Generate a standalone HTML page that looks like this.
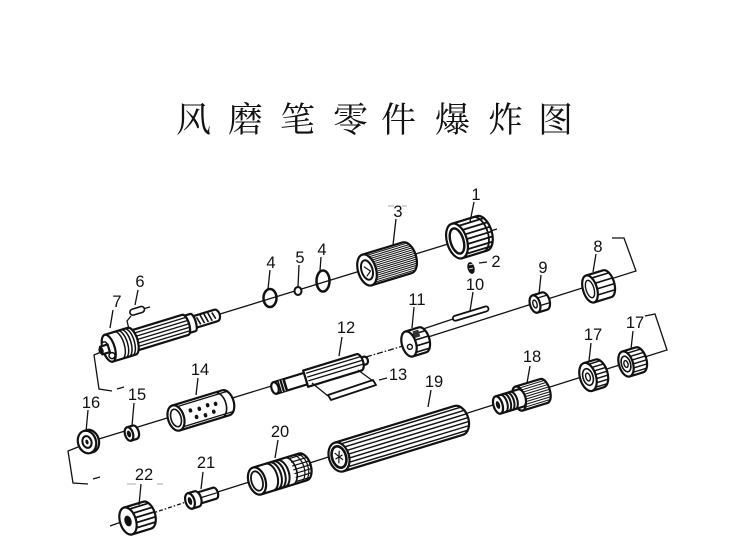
<!DOCTYPE html>
<html><head><meta charset="utf-8"><style>
html,body{margin:0;padding:0;background:#fff;}
svg{display:block}
.o{fill:#fff;stroke:#111;stroke-width:2.2;stroke-linejoin:round}
.l{stroke:#111;stroke-width:1.3;fill:none}
.k{stroke:#111;stroke-width:1.3;fill:none}
.t{font-family:"Liberation Sans",sans-serif;font-size:16.5px;fill:#111;text-anchor:middle}
</style></head><body>
<svg width="740" height="549" viewBox="0 0 740 549" xmlns="http://www.w3.org/2000/svg">
<rect width="740" height="549" fill="#fff"/>
<text font-family="'Noto Serif CJK SC','Liberation Serif',serif" font-size="35" y="132" fill="#111"><tspan x="176">风</tspan><tspan x="228">磨</tspan><tspan x="280">笔</tspan><tspan x="333">零</tspan><tspan x="381">件</tspan><tspan x="435">爆</tspan><tspan x="488">炸</tspan><tspan x="538">图</tspan></text>

<!-- axis lines -->
<path class="l" d="M220,314 L497,229"/>
<path class="l" d="M428,337 L636,271 L624,238 L612,238"/>
<path class="l" d="M423,329 L453,319"/>
<path class="l" d="M89,442 L366,357"/>
<path class="l" d="M366,357 L403,346" stroke-dasharray="6,2,1.5,2"/>
<path class="l" d="M186,502 L667,350 L655,314 L645,316"/>
<path class="l" d="M150,514 L186,502" stroke-dasharray="4,2,1.5,2"/>
<path class="l" d="M110,526 L124,521"/>
<!-- brackets -->
<path class="l" d="M101,352 L94,355 L99,389 L112,391"/>
<path class="l" d="M117,389 L124,387"/>
<path class="l" d="M78,447 L68,451 L73,483 L88,484"/>
<path class="l" d="M93,479 L100,477"/>
<!-- faint marks -->
<path d="M388,206 L394,206 M402,206 L407,206 M127,484 L136,484 M157,484 L163,484" stroke="#aaa" stroke-width="1"/>

<!-- Part 7 spindle -->
<g transform="translate(103,350) rotate(-17)">
 <path class="o" d="M94,-6 H118 A4,6 0 0 1 118,6 H94 Z"/>
 <path d="M99,-4 L101,4 M103,-5 L105,4 M107,-5 L109,4 M111,-5 L113,4 M115,-4 L117,3" stroke="#111" stroke-width="1.6"/>
 <path class="o" d="M84,-9 H94 A3,9 0 0 1 94,9 H84 Z"/>
 <path class="o" d="M30,-10.5 H86 A4,10.5 0 0 1 86,10.5 H30 Z"/>
 <path class="k" d="M33,-7 H88 M33,-3.5 H89 M33,0 H89.5 M33,3.5 H89 M33,7 H88"/>
 <path class="o" d="M6,-14 H30 A6,14 0 0 1 30,14 H6 Z"/>
 <path d="M16,-14 A6,14 0 0 1 16,14 M19.5,-14 A6,14 0 0 1 19.5,14 M23,-14 A6,14 0 0 1 23,14 M26.5,-14 A6,14 0 0 1 26.5,14" fill="none" stroke="#111" stroke-width="1.5"/>
 <ellipse class="o" cx="6" cy="0" rx="6" ry="14"/>
 <circle cx="7" cy="8" r="3" fill="#fff" stroke="#111" stroke-width="1.5"/>
 <circle cx="3" cy="-5" r="2.5" fill="#fff" stroke="#111" stroke-width="1.5"/>
 <path class="o" d="M-2,-4 H6 V4 H-2 Z"/>
 <ellipse cx="-2" cy="0" rx="2.5" ry="4" fill="#111"/>
</g>
<!-- Part 6 -->
<g transform="translate(130,313) rotate(-17)">
 <rect x="0" y="-3" width="15" height="6" rx="3" fill="#fff" stroke="#111" stroke-width="1.6"/>
 <path class="l" d="M15,0 H21"/>
</g>
<path class="l" d="M131,316 L127,321 L129,329"/>

<!-- rings 4,5,4 -->
<ellipse cx="270" cy="298" rx="6.5" ry="9" fill="none" stroke="#111" stroke-width="2.5"/>
<ellipse cx="298" cy="291" rx="3.5" ry="4" fill="#fff" stroke="#111" stroke-width="2"/>
<ellipse cx="323" cy="281" rx="6.5" ry="10.5" fill="none" stroke="#111" stroke-width="2.5"/>

<!-- Part 3 -->
<g transform="translate(367,270) rotate(-17)">
 <path class="o" d="M0,-16 H42 A9,16 0 0 1 42,16 H0 Z"/>
 <path d="M0,-14H46.3 M0,-12H48 M0,-10H49 M0,-8H49.8 M0,-6H50.3 M0,-4H50.7 M0,-2H50.9 M0,0H51 M0,2H50.9 M0,4H50.7 M0,6H50.3 M0,8H49.8 M0,10H49 M0,12H48 M0,14H46.3" stroke="#111" stroke-width="1"/>
 <ellipse class="o" cx="0" cy="0" rx="9" ry="16" stroke-width="2.6"/>
 <ellipse cx="0" cy="0" rx="5.5" ry="10" fill="#fff" stroke="#111" stroke-width="2"/>
 <path d="M-2,-4 L3,2 L-2,6" fill="none" stroke="#111" stroke-width="1.2"/>
</g>

<!-- Part 1 -->
<g transform="translate(457,241) rotate(-17)">
 <path class="o" d="M0,-18 H26 A10,18 0 0 1 26,18 H0 Z"/>
 <path d="M0,-14H32.3 M0,-9H34.7 M0,-4H35.7 M0,1H36 M0,6H35.4 M0,11H33.9 M0,15H31.5" stroke="#111" stroke-width="1.8"/>
 <path d="M22,-18 A10,18 0 0 1 22,18" fill="none" stroke="#111" stroke-width="1.8"/>
 <ellipse class="o" cx="0" cy="0" rx="10" ry="18" stroke-width="2.6"/>
 <ellipse cx="0" cy="0" rx="6.5" ry="13" fill="#fff" stroke="#111" stroke-width="2.4"/>
</g>
<!-- Part 2 -->
<ellipse cx="471" cy="268" rx="3.5" ry="6" fill="#111" transform="rotate(-15 471 268)"/>
<path d="M469,265 L473,264 M469,269 L473,268" stroke="#fff" stroke-width="0.8"/>
<path class="l" d="M479,263 L487,262"/>

<!-- Part 10 pin -->
<g transform="translate(453,319) rotate(-17)">
 <rect x="0" y="-2.5" width="37" height="5" rx="2.5" fill="#fff" stroke="#111" stroke-width="1.8"/>
</g>
<!-- Part 9 -->
<g transform="translate(535,304) rotate(-17)">
 <path class="o" d="M0,-9 H10 A5,9 0 0 1 10,9 H0 Z"/>
 <path class="k" d="M0,-5H14.5 M0,3H14.7"/>
 <ellipse class="o" cx="0" cy="0" rx="5" ry="9"/>
 <ellipse cx="0" cy="0" rx="2" ry="4" fill="#fff" stroke="#111" stroke-width="1.4"/>
</g>
<!-- Part 8 -->
<g transform="translate(590,289) rotate(-17)">
 <path class="o" d="M0,-14 H18 A7,14 0 0 1 18,14 H0 Z"/>
 <path d="M0,-10H22.9 M0,-4H24.4 M0,2H24.9 M0,8H23.7" stroke="#111" stroke-width="1.6"/>
 <ellipse class="o" cx="0" cy="0" rx="7" ry="14" stroke-width="2.4"/>
 <ellipse cx="0" cy="0" rx="4" ry="9" fill="#fff" stroke="#111" stroke-width="1.4"/>
</g>
<!-- Part 11 -->
<g transform="translate(409,344) rotate(-17)">
 <path class="o" d="M0,-13 H14 A7,13 0 0 1 14,13 H0 Z"/>
 <path d="M0,-8H19.5 M0,-2H20.9 M0,4H20.6 M0,10H18.5" stroke="#111" stroke-width="1.6"/>
 <rect x="7" y="-11" width="6" height="7" fill="#333"/>
 <ellipse class="o" cx="0" cy="0" rx="7" ry="13" stroke-width="2.4"/>
 <circle cx="0" cy="3" r="2.5" fill="#fff" stroke="#111" stroke-width="1.4"/>
</g>

<!-- Part 12 -->
<g transform="translate(275,388) rotate(-17)">
 <path class="o" d="M88,-4 H94 A3,4 0 0 1 94,4 H88 Z"/>
 <path class="o" d="M32,-8.5 H88 A4,8.5 0 0 1 88,8.5 H32 Z"/>
 <path class="k" d="M34,-5H91.4 M34,-1H92 M34,3H91.7"/>
 <path class="o" d="M0,-6 H32 V6 H0 Z"/>
 <rect x="4" y="-6" width="8" height="12" fill="#111"/>
 <path d="M6,-6 V6 M9,-6 V6" stroke="#fff" stroke-width="0.8"/>
 <ellipse class="o" cx="0" cy="0" rx="3.5" ry="6"/>
</g>
<!-- Part 13 -->
<polygon points="328,395 373,380 376,385 331,400" fill="#fff" stroke="#111" stroke-width="1.8" stroke-linejoin="round"/>
<path class="l" d="M312,383 L328,396 M358,370 L373,381"/>
<path class="l" d="M379,380 L387,378"/>

<!-- Part 14 -->
<g transform="translate(176,418) rotate(-17)">
 <path class="o" d="M0,-13 H52 A8,13 0 0 1 52,13 H0 Z"/>
 <path d="M44,-13 A8,13 0 0 1 44,13" fill="none" stroke="#111" stroke-width="1.6"/>
 <path class="k" d="M4,-10.5 H57 M4,10.5 H57"/>
 <g fill="#111">
  <ellipse cx="16" cy="-3" rx="1.8" ry="2.2"/><ellipse cx="25" cy="-2" rx="1.8" ry="2.2"/><ellipse cx="34" cy="-3" rx="1.8" ry="2.2"/><ellipse cx="42" cy="-2" rx="1.8" ry="2.2"/>
  <ellipse cx="20" cy="5" rx="1.8" ry="2.2"/><ellipse cx="29" cy="6" rx="1.8" ry="2.2"/><ellipse cx="38" cy="5" rx="1.8" ry="2.2"/>
 </g>
 <ellipse class="o" cx="0" cy="0" rx="8" ry="13" stroke-width="2.5"/>
 <ellipse cx="0" cy="0" rx="5" ry="9" fill="#fff" stroke="#111" stroke-width="1.6"/>
</g>
<!-- Part 15 -->
<g transform="translate(129,434) rotate(-17)">
 <path class="o" d="M0,-7 H6 A4,7 0 0 1 6,7 H0 Z"/>
 <ellipse class="o" cx="0" cy="0" rx="4" ry="7" stroke-width="2.4"/>
 <ellipse cx="0" cy="0" rx="2" ry="3.5" fill="#111"/>
</g>
<!-- Part 16 -->
<g transform="translate(87,442) rotate(-17)">
 <path class="o" d="M0,-11.5 H3 A9,11.5 0 0 1 3,11.5 H0 Z"/>
 <ellipse class="o" cx="0" cy="0" rx="9" ry="11.5" stroke-width="2.6"/>
 <ellipse cx="0" cy="0" rx="4.5" ry="6" fill="#fff" stroke="#111" stroke-width="2"/>
 <ellipse cx="0" cy="0" rx="1.5" ry="2.5" fill="#111"/>
</g>

<!-- Part 22 -->
<g transform="translate(128,521) rotate(-17)">
 <path class="o" d="M0,-14 H20 A8,14 0 0 1 20,14 H0 Z"/>
 <path d="M0,-11H24.9 M0,-6H27.2 M0,-1H28 M0,4H27.7 M0,9H26.1" stroke="#111" stroke-width="1.8"/>
 <ellipse class="o" cx="0" cy="0" rx="8" ry="14" stroke-width="2.4"/>
 <ellipse cx="0" cy="0" rx="3.5" ry="5.5" fill="#111"/>
</g>
<!-- Part 21 -->
<g transform="translate(190,501) rotate(-17)">
 <path class="o" d="M6,-6 H26 A3,5.5 0 0 1 26,5.5 H6 Z" stroke-width="1.8"/>
 <path class="k" d="M12,0 H28"/>
 <path class="o" d="M0,-8 H7 A4.5,8 0 0 1 7,8 H0 Z"/>
 <ellipse class="o" cx="0" cy="0" rx="4.5" ry="8" stroke-width="2.6"/>
 <ellipse cx="0" cy="0" rx="2" ry="4" fill="#111"/>
</g>
<!-- Part 20 -->
<g transform="translate(257,481) rotate(-17)">
 <path class="o" d="M0,-14 H48 A8,14 0 0 1 48,14 H0 Z"/>
 <path d="M13,-14 A8,14 0 0 1 13,14 M17,-14 A8,14 0 0 1 17,14 M21,-14 A8,14 0 0 1 21,14 M25,-14 A8,14 0 0 1 25,14" fill="none" stroke="#111" stroke-width="2"/>
 <path d="M33,-14 A8,14 0 0 1 33,14" fill="none" stroke="#111" stroke-width="1.6"/>
 <path d="M38,-12H53 M38,-8H54.8 M38,-4H55.6 M38,0H56 M38,4H55.6 M38,8H54.8 M38,12H53" stroke="#111" stroke-width="1.2"/>
 <path d="M41,-14 A8,14 0 0 1 41,14 M45,-14 A8,14 0 0 1 45,14" fill="none" stroke="#111" stroke-width="1.2"/>
 <ellipse class="o" cx="0" cy="0" rx="8.5" ry="14" stroke-width="2.6"/>
 <ellipse cx="0" cy="0" rx="5.5" ry="10" fill="#fff" stroke="#111" stroke-width="1.8"/>
</g>
<!-- Part 19 -->
<g transform="translate(339,457) rotate(-17)">
 <path class="o" d="M0,-15 H125 A10,15 0 0 1 125,15 H0 Z" stroke-width="2.4"/>
 <path d="M0,-12H131 M0,-8H133.5 M0,-4H134.6 M0,0H135 M0,4H134.6 M0,8H133.5 M0,12H131" stroke="#111" stroke-width="1.4"/>
 <ellipse class="o" cx="0" cy="0" rx="10" ry="15" stroke-width="2.6"/>
 <ellipse cx="0" cy="0" rx="7" ry="11" fill="#fff" stroke="#111" stroke-width="2.6"/>
 <path d="M-3,-5 L3,4 M2,-6 L-2,6 M-4,1 L4,-1" stroke="#111" stroke-width="1.2"/>
</g>
<!-- Part 18 -->
<g transform="translate(498,405) rotate(-17)">
 <path class="o" d="M22,-12.5 H48 A6,12.5 0 0 1 48,12.5 H22 Z"/>
 <path d="M24,-10H52.8 M24,-7.5H53.2 M24,-5H53.5 M24,-2.5H53.9 M24,0H54 M24,2.5H53.9 M24,5H53.5 M24,7.5H53.2 M24,10H52.8" stroke="#111" stroke-width="1"/>
 <ellipse class="o" cx="22" cy="0" rx="6" ry="12.5"/>
 <path class="o" d="M0,-9 H24 A4.5,9 0 0 1 24,9 H0 Z"/>
 <path d="M5,-9 A4.5,9 0 0 1 5,9 M8.5,-9 A4.5,9 0 0 1 8.5,9 M12,-9 A4.5,9 0 0 1 12,9 M15.5,-9 A4.5,9 0 0 1 15.5,9" fill="none" stroke="#111" stroke-width="2"/>
 <ellipse class="o" cx="0" cy="0" rx="4.5" ry="9" stroke-width="2.4"/>
 <ellipse cx="0" cy="0" rx="2" ry="4" fill="#111"/>
</g>
<!-- Part 17a -->
<g transform="translate(588,377) rotate(-17)">
 <path class="o" d="M0,-14.5 H12 A8,14.5 0 0 1 12,14.5 H0 Z"/>
 <path d="M0,-12H16.5 M0,-8H18.6 M0,-4H19.7 M0,0H20 M0,4H19.7 M0,8H18.6 M0,12H16.5" stroke="#111" stroke-width="1.4"/>
 <ellipse class="o" cx="0" cy="0" rx="8" ry="14.5" stroke-width="2.5"/>
 <ellipse cx="0" cy="0" rx="5" ry="8.5" fill="#fff" stroke="#111" stroke-width="1.6"/>
 <ellipse cx="0" cy="0" rx="2.2" ry="4" fill="#fff" stroke="#111" stroke-width="1.4"/>
</g>
<!-- Part 17b -->
<g transform="translate(626,364) rotate(-17)">
 <path class="o" d="M0,-13 H14 A7,13 0 0 1 14,13 H0 Z"/>
 <path d="M0,-10H18.5 M0,-6H19.6 M0,-2H20.9 M0,2H20.9 M0,6H19.6 M0,10H18.5" stroke="#111" stroke-width="1.4"/>
 <ellipse class="o" cx="0" cy="0" rx="7" ry="13" stroke-width="2.5"/>
 <ellipse cx="0" cy="0" rx="4.5" ry="8" fill="#fff" stroke="#111" stroke-width="1.6"/>
 <ellipse cx="0" cy="0" rx="2" ry="3.5" fill="#fff" stroke="#111" stroke-width="1.4"/>
</g>

<!-- leaders -->
<path class="l" d="M474,202 L470,222 M396,219 L393,245 M270,270 L268,289 M299,265 L298,287 M321,257 L320,271 M138,290 L135,305 M113,310 L110,328 M541,275 L539,294 M473,292 L470,311 M596,254 L593,272 M414,307 L412,328 M342,337 L339,356 M198,378 L196,395 M134,403 L132,426 M88,410 L86,432 M530,366 L527,383 M431,390 L428,407 M591,343 L589,361 M633,331 L631,349 M278,440 L275,458 M203,472 L201,489 M141,484 L139,505"/>

<!-- labels -->
<g class="t">
<text class="t" x="476" y="200">1</text>
<text class="t" x="496" y="267">2</text>
<text class="t" x="398" y="217">3</text>
<text class="t" x="271" y="268">4</text>
<text class="t" x="300" y="263">5</text>
<text class="t" x="322" y="255">4</text>
<text class="t" x="140" y="287">6</text>
<text class="t" x="117" y="307">7</text>
<text class="t" x="598" y="252">8</text>
<text class="t" x="543" y="273">9</text>
<text class="t" x="475" y="290">10</text>
<text class="t" x="417" y="305">11</text>
<text class="t" x="346" y="333">12</text>
<text class="t" x="398" y="380">13</text>
<text class="t" x="200" y="375">14</text>
<text class="t" x="137" y="400">15</text>
<text class="t" x="91" y="408">16</text>
<text class="t" x="593" y="340">17</text>
<text class="t" x="635" y="328">17</text>
<text class="t" x="532" y="362">18</text>
<text class="t" x="434" y="387">19</text>
<text class="t" x="280" y="437">20</text>
<text class="t" x="206" y="468">21</text>
<text class="t" x="144" y="480">22</text>
</g>
</svg>
</body></html>
